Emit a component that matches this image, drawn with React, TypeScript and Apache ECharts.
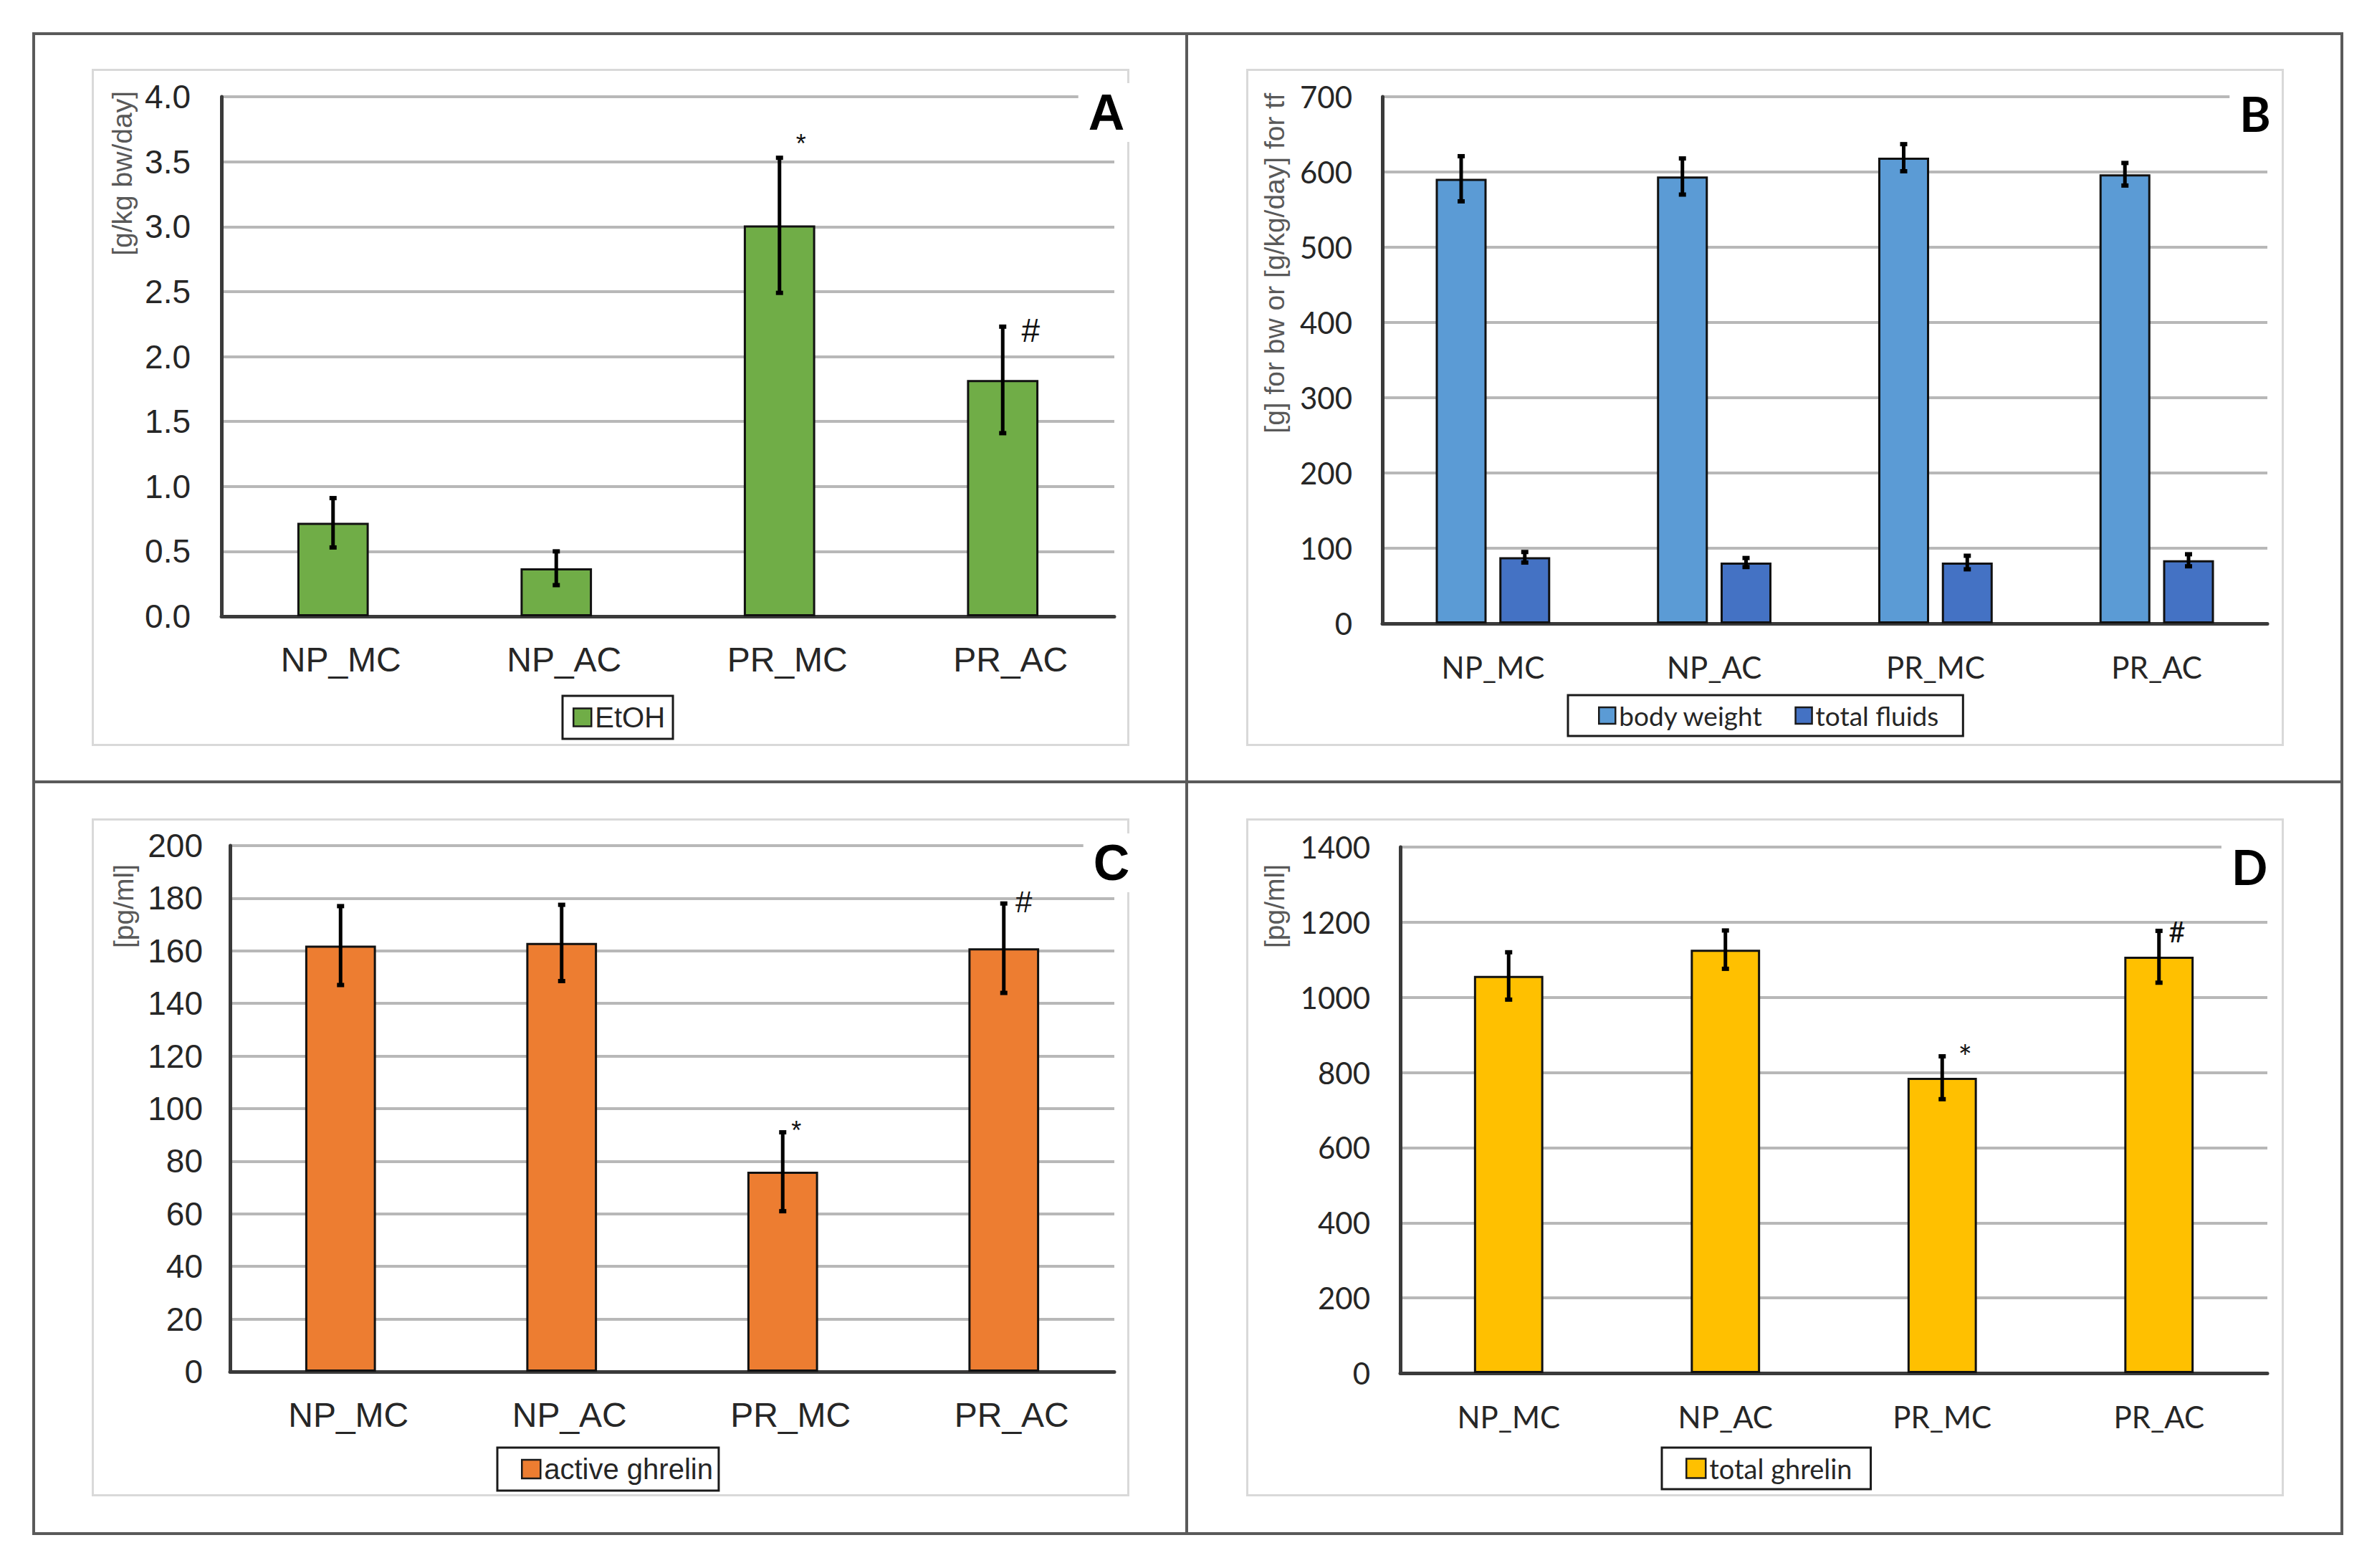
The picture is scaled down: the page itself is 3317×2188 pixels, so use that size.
import React, { useEffect, useRef } from "react";
import * as echarts from "echarts";

// ---------- DATA ----------
const categories = ["NP_MC", "NP_AC", "PR_MC", "PR_AC"];

// Panel A – EtOH intake [g/kg bw/day]
const etoh = [0.72, 0.37, 3.01, 1.82];
const etohErr = [0.19, 0.13, 0.52, 0.41];
const etohMarks = ["", "", "*", "#"];

// Panel B – body weight [g] and total fluids [g/kg/day]
const bodyWeight = [591, 594, 619, 597];
const bodyWeightErr = [30, 24, 18, 15];
const totalFluids = [88, 81, 81, 84];
const totalFluidsErr = [7, 6, 9, 8];

// Panel C – active ghrelin [pg/ml]
const activeGhrelin = [162, 163, 76, 161];
const activeGhrelinErr = [15, 14.5, 15, 17];
const activeMarks = ["", "", "*", "#"];

// Panel D – total ghrelin [pg/ml]
const totalGhrelin = [1057, 1127, 786, 1108];
const totalGhrelinErr = [63, 51, 57, 69];
const totalMarks = ["", "", "*", "#"];

// Y-axis scales (tick labels are generated from these)
const axisA = { min: 0, max: 4, interval: 0.5, decimals: 1 };
const axisB = { min: 0, max: 700, interval: 100, decimals: 0 };
const axisC = { min: 0, max: 200, interval: 20, decimals: 0 };
const axisD = { min: 0, max: 1400, interval: 200, decimals: 0 };

// ---------- STYLE ----------
const ARIAL = '"Liberation Sans", Arial, sans-serif';
const CALIBRI = 'Lato, "Open Sans", sans-serif';

type SeriesCfg = {
  name: string;
  data: number[];
  err: number[];
  color: string;
  offset: number; // fraction of category width
  marks?: string[];
};

type PanelCfg = {
  x: number; y: number; w: number; h: number;
  font: string;
  letter: string; letterX: number; letterY: number; letterSize: number;
  yName: string; yNameX: number; yNameY: number;
  grid: { left: number; right: number; top: number; bottom: number };
  axis: { min: number; max: number; interval: number; decimals: number };
  tickSize: number; tickMargin: number;
  catSize: number; catMargin: number; catPadLeft: number;
  barWidth: string; barGap?: string;
  series: SeriesCfg[];
  legend: { left: number; top: number; padding: number[]; itemGap: number; itemTextGap: number; fontSize: number; icon: number };
  markStyle?: Record<string, { dx: number; dy: number; size: number }>;
};

const panels: PanelCfg[] = [
  {
    x: 128, y: 96, w: 1448, h: 945, font: ARIAL,
    letter: "A", letterX: 1416, letterY: 61, letterSize: 70,
    yName: "[g/kg bw/day]", yNameX: 42, yNameY: 31,
    grid: { left: 181, right: 21, top: 39, bottom: 181 },
    axis: axisA, tickSize: 46, tickMargin: 43,
    catSize: 48, catMargin: 36, catPadLeft: 22,
    barWidth: "32%",
    series: [{ name: "EtOH", data: etoh, err: etohErr, color: "#70AD47", offset: 0, marks: etohMarks }],
    legend: { left: 657, top: 875, padding: [10, 11, 10, 14], itemGap: 10, itemTextGap: 11, fontSize: 40, icon: 25 },
    markStyle: { "*": { dx: 30, dy: -20, size: 36 }, "#": { dx: 39, dy: 5, size: 46 } },
  },
  {
    x: 1739, y: 96, w: 1448, h: 945, font: CALIBRI,
    letter: "B", letterX: 1408, letterY: 62, letterSize: 66,
    yName: "[g] for bw or [g/kg/day] for tf", yNameX: 39, yNameY: 34,
    grid: { left: 190, right: 23, top: 39, bottom: 171 },
    axis: axisB, tickSize: 42, tickMargin: 42,
    catSize: 42, catMargin: 40, catPadLeft: 0,
    barWidth: "23%", barGap: "25%",
    series: [
      { name: "body weight", data: bodyWeight, err: bodyWeightErr, color: "#5B9BD5", offset: -0.14375 },
      { name: "total fluids", data: totalFluids, err: totalFluidsErr, color: "#4472C4", offset: 0.14375 },
    ],
    legend: { left: 449, top: 874, padding: [10, 34, 10, 42], itemGap: 44, itemTextGap: 13, fontSize: 37, icon: 23 },
  },
  {
    x: 128, y: 1142, w: 1448, h: 946, font: ARIAL,
    letter: "C", letterX: 1423, letterY: 62, letterSize: 70,
    yName: "[pg/ml]", yNameX: 44, yNameY: 64,
    grid: { left: 193, right: 21, top: 38, bottom: 174 },
    axis: axisC, tickSize: 46, tickMargin: 38,
    catSize: 48, catMargin: 36, catPadLeft: 22,
    barWidth: "32%",
    series: [{ name: "active ghrelin", data: activeGhrelin, err: activeGhrelinErr, color: "#ED7D31", offset: 0, marks: activeMarks }],
    legend: { left: 566, top: 878, padding: [10, 8, 10, 33], itemGap: 10, itemTextGap: 7, fontSize: 40, icon: 26 },
    markStyle: { "*": { dx: 19, dy: -3, size: 36 }, "#": { dx: 28, dy: -2, size: 42 } },
  },
  {
    x: 1739, y: 1142, w: 1448, h: 946, font: CALIBRI,
    letter: "D", letterX: 1400, letterY: 67, letterSize: 66,
    yName: "[pg/ml]", yNameX: 39, yNameY: 64,
    grid: { left: 215, right: 23, top: 40, bottom: 172 },
    axis: axisD, tickSize: 42, tickMargin: 42,
    catSize: 42, catMargin: 40, catPadLeft: 0,
    barWidth: "32%",
    series: [{ name: "total ghrelin", data: totalGhrelin, err: totalGhrelinErr, color: "#FFC000", offset: 0, marks: totalMarks }],
    legend: { left: 580, top: 878, padding: [10, 26, 10, 33], itemGap: 10, itemTextGap: 6, fontSize: 38, icon: 27 },
    markStyle: { "*": { dx: 32, dy: 0, size: 46 }, "#": { dx: 25, dy: 1, size: 40 } },
  },
];

function errorSeries(s: SeriesCfg, cfg: PanelCfg) {
  return {
    type: "custom",
    name: s.name + " error",
    z: 5,
    silent: true,
    data: s.data.map((v, i) => [i, v - s.err[i], v + s.err[i]]),
    encode: { x: 0, y: [1, 2] },
    renderItem: (params: any, api: any) => {
      const i = api.value(0);
      const lo = api.coord([i, api.value(1)]);
      const hi = api.coord([i, api.value(2)]);
      const catW = api.size([1, 0])[0];
      const cx = lo[0] + s.offset * catW;
      const children: any[] = [
        { type: "line", shape: { x1: cx, y1: lo[1], x2: cx, y2: hi[1] }, style: { stroke: "#000", lineWidth: 5 } },
        { type: "rect", shape: { x: cx - 5, y: hi[1] - 3, width: 10, height: 6 }, style: { fill: "#000" } },
        { type: "rect", shape: { x: cx - 5, y: lo[1] - 3, width: 10, height: 6 }, style: { fill: "#000" } },
      ];
      const m = s.marks ? s.marks[params.dataIndex] : "";
      if (m && cfg.markStyle && cfg.markStyle[m]) {
        const ms = cfg.markStyle[m];
        children.push({
          type: "text",
          x: cx + ms.dx,
          y: hi[1] + ms.dy,
          style: { text: m, fontSize: ms.size, fontFamily: cfg.font, fill: "#111", align: "center", verticalAlign: "middle" },
        });
      }
      return { type: "group", children };
    },
  };
}

function buildOption(cfg: PanelCfg) {
  const bars = cfg.series.map((s) => ({
    type: "bar",
    name: s.name,
    data: s.data,
    barWidth: cfg.barWidth,
    barGap: cfg.barGap ?? "30%",
    z: 2,
    itemStyle: { color: s.color, borderColor: "#111", borderWidth: 3 },
  }));
  return {
    animation: false,
    backgroundColor: "transparent",
    grid: { ...cfg.grid },
    xAxis: {
      type: "category",
      data: categories,
      axisLine: { show: true, lineStyle: { color: "#3a3a3a", width: 5 } },
      axisTick: { show: false },
      splitLine: { show: false },
      axisLabel: {
        fontSize: cfg.catSize,
        fontFamily: cfg.font,
        color: "#262626",
        margin: cfg.catMargin,
        padding: [0, 0, 0, cfg.catPadLeft],
      },
    },
    yAxis: {
      type: "value",
      min: cfg.axis.min,
      max: cfg.axis.max,
      interval: cfg.axis.interval,
      axisLine: { show: true, lineStyle: { color: "#3a3a3a", width: 5 } },
      axisTick: { show: false },
      splitLine: { show: true, lineStyle: { color: "#b8b8b8", width: 4 } },
      axisLabel: {
        fontSize: cfg.tickSize,
        fontFamily: cfg.font,
        color: "#262626",
        margin: cfg.tickMargin,
        formatter: (v: number) => v.toFixed(cfg.axis.decimals),
      },
    },
    legend: {
      data: cfg.series.map((s) => s.name),
      left: cfg.legend.left,
      top: cfg.legend.top,
      orient: "horizontal",
      icon: "rect",
      itemWidth: cfg.legend.icon,
      itemHeight: cfg.legend.icon,
      itemGap: cfg.legend.itemGap,
      itemTextGap: cfg.legend.itemTextGap,
      padding: cfg.legend.padding,
      borderColor: "#1a1a1a",
      borderWidth: 3,
      backgroundColor: "#fff",
      selectedMode: false,
      itemStyle: { borderColor: "#1a1a1a", borderWidth: 2.5 },
      textStyle: { fontSize: cfg.legend.fontSize, fontFamily: cfg.font, color: "#262626" },
    },
    graphic: [
      {
        type: "text",
        z: 100,
        x: cfg.letterX,
        y: cfg.letterY,
        style: {
          text: cfg.letter,
          fontSize: cfg.letterSize,
          fontWeight: "bold",
          fontFamily: cfg.font,
          fill: "#000",
          align: "center",
          verticalAlign: "middle",
          backgroundColor: "#fff",
          padding: [6, 14, 6, 14],
        },
      },
      {
        type: "text",
        z: 100,
        x: cfg.yNameX,
        y: cfg.yNameY,
        rotation: Math.PI / 2,
        style: {
          text: cfg.yName,
          fontSize: 39,
          fontFamily: ARIAL,
          fill: "#595959",
          align: "right",
          verticalAlign: "middle",
        },
      },
    ],
    series: [...bars, ...cfg.series.map((s) => errorSeries(s, cfg))],
  };
}

function Panel({ cfg }: { cfg: PanelCfg }) {
  const ref = useRef<HTMLDivElement>(null);
  useEffect(() => {
    if (!ref.current) return;
    const chart = echarts.init(ref.current, null, { renderer: "svg" });
    chart.setOption(buildOption(cfg) as any);
    return () => chart.dispose();
  }, [cfg]);
  return (
    <div style={{ position: "absolute", left: cfg.x, top: cfg.y, width: cfg.w, height: cfg.h }}>
      <div
        style={{
          position: "absolute",
          left: 0,
          top: 0,
          width: cfg.w,
          height: cfg.h,
          border: "3px solid #d9d9d9",
          boxSizing: "border-box",
        }}
      />
      <div ref={ref} style={{ position: "absolute", left: 0, top: 0, width: cfg.w, height: cfg.h }} />
    </div>
  );
}

export default function App() {
  return (
    <div
      style={{
        position: "absolute",
        left: 0,
        top: 0,
        width: 3317,
        height: 2188,
        background: "#fff",
        overflow: "hidden",
      }}
    >
      {/* outer frame and dividers */}
      <div
        style={{
          position: "absolute",
          left: 45,
          top: 45,
          width: 3225,
          height: 2097,
          border: "4px solid #5a5a5a",
          boxSizing: "border-box",
        }}
      />
      <div style={{ position: "absolute", left: 1654, top: 45, width: 4, height: 2097, background: "#5a5a5a" }} />
      <div style={{ position: "absolute", left: 45, top: 1089, width: 3225, height: 4, background: "#5a5a5a" }} />
      {panels.map((p) => (
        <Panel key={p.letter} cfg={p} />
      ))}
    </div>
  );
}
